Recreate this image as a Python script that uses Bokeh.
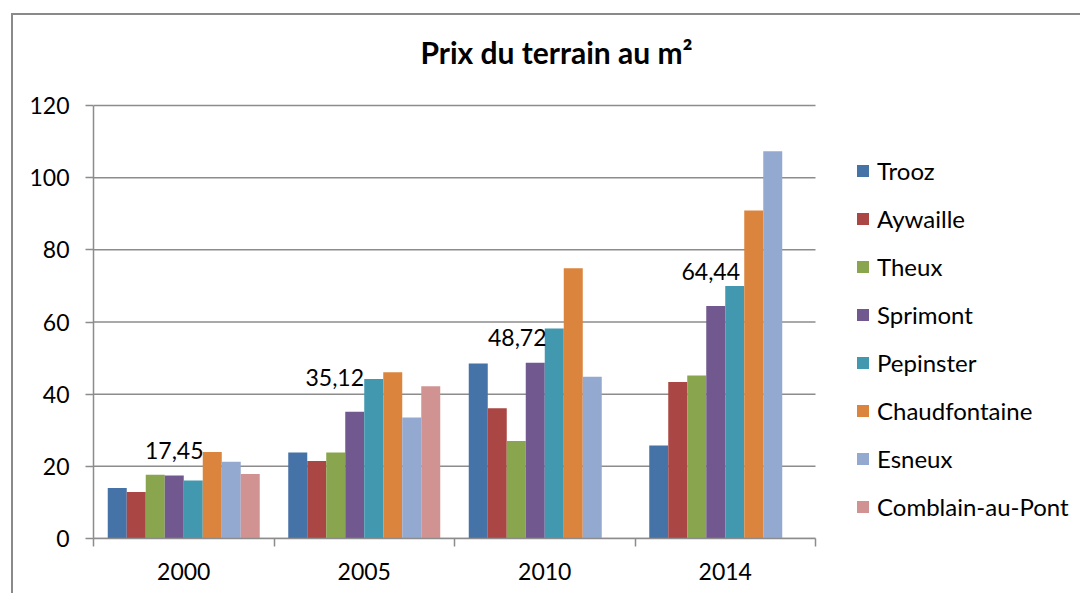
from bokeh.plotting import figure
from bokeh.models import (ColumnDataSource, FixedTicker, Legend, LegendItem, LabelSet,
                          Label, Range1d)
from bokeh.core.properties import value
from bokeh.embed import file_html
from bokeh.resources import INLINE

# ---------------- data ----------------
years = ["2000", "2005", "2010", "2014"]
communes = ["Trooz", "Aywaille", "Theux", "Sprimont", "Pepinster",
            "Chaudfontaine", "Esneux", "Comblain-au-Pont"]
trooz = [14.0, 23.8, 48.5, 25.8]
aywaille = [12.9, 21.5, 36.1, 43.4]
theux = [17.7, 23.8, 27.0, 45.2]
sprimont = [17.45, 35.12, 48.72, 64.44]
pepinster = [16.1, 44.2, 58.2, 70.0]
chaudfontaine = [24.0, 46.1, 74.9, 90.9]
esneux = [21.3, 33.5, 44.8, 107.3]
comblain = [17.9, 42.2, float("nan"), float("nan")]
series = [trooz, aywaille, theux, sprimont, pepinster, chaudfontaine, esneux, comblain]
colors = ["#4572A7", "#AA4643", "#89A54E", "#71588F",
          "#4198AF", "#DB843D", "#93A9CF", "#D19392"]
y_ticks = [0, 20, 40, 60, 80, 100, 120]
title_text = "Prix du terrain au m²"
labelled_series = 3  # Sprimont values are shown as data labels
label_dx = [0, -20, -18, -5]
label_dy = [17, 26, 17, 26]

FONT = "Lato"
GRID = "#8c8c8c"

# ---------------- layout (pixels) ----------------
W, H = 1069, 580
LEFT, BOTTOM = 80, 57
PLOT_W, PLOT_H = 722, 433          # area used by the bars / axes
FRAME_W, FRAME_H = W - LEFT, H - BOTTOM

n_cat = len(years)
n_ser = len(series)
y_max = max(y_ticks)
bar_w = 1.0 / (n_ser + 1.5)
xc = [i + 0.5 for i in range(n_cat)]

p = figure(width=W, height=H, output_backend="svg", toolbar_location=None, title=None,
           x_range=Range1d(0, n_cat * FRAME_W / PLOT_W),
           y_range=Range1d(0, y_max * FRAME_H / PLOT_H),
           min_border=0, min_border_left=LEFT, min_border_right=0,
           min_border_top=0, min_border_bottom=BOTTOM)
p.margin = (13, 0, 0, 11)
p.styles = {"border-left": "2px solid #8a8a8a", "border-top": "2px solid #8a8a8a"}
p.outline_line_color = None
p.background_fill_color = "white"
p.border_fill_color = "white"
p.xgrid.grid_line_color = None
p.ygrid.grid_line_color = None

# horizontal gridlines limited to the plot area
p.segment(x0=[0] * len(y_ticks), x1=[n_cat] * len(y_ticks), y0=y_ticks, y1=y_ticks,
          line_color=GRID, line_width=1.5)

items = []
for i, (name, vals, col) in enumerate(zip(communes, series, colors)):
    off = (i - (n_ser - 1) / 2) * bar_w
    src = ColumnDataSource(dict(x=[c + off for c in xc], top=vals))
    r = p.vbar(x="x", top="top", width=bar_w, bottom=0, source=src,
               fill_color=col, line_color=None)
    items.append(LegendItem(label=name, renderers=[r]))

# data labels
off3 = (labelled_series - (n_ser - 1) / 2) * bar_w
lab_src = ColumnDataSource(dict(
    x=[c + off3 for c in xc],
    y=sprimont,
    text=[f"{v:.2f}".replace(".", ",") for v in sprimont],
    dx=label_dx, dy=label_dy))
p.add_layout(LabelSet(x="x", y="y", text="text", source=lab_src,
                      x_offset="dx", y_offset="dy", text_align="center",
                      text_baseline="alphabetic", text_font=value(FONT),
                      text_font_size=value("23px"), text_color=value("#000000")))

# title
p.add_layout(Label(x=463, y=FRAME_H - 36, x_units="screen", y_units="screen",
                   text=title_text, text_align="center", text_baseline="alphabetic",
                   text_font=FONT, text_font_style="bold", text_font_size="30px",
                   text_color="#000000"))

# x axis
p.xaxis.bounds = (0, n_cat)
p.xaxis.ticker = FixedTicker(ticks=xc, minor_ticks=list(range(n_cat + 1)))
p.xaxis.major_label_overrides = {x: y for x, y in zip(xc, years)}
p.xaxis.major_tick_out = 0
p.xaxis.major_tick_in = 0
p.xaxis.minor_tick_out = 8
p.xaxis.minor_tick_in = 0
p.xaxis.minor_tick_line_color = GRID
p.xaxis.minor_tick_line_width = 1.5
p.xaxis.axis_line_color = GRID
p.xaxis.axis_line_width = 1.5
p.xaxis.major_label_standoff = 16
p.xaxis.major_label_text_font = FONT
p.xaxis.major_label_text_font_size = "23px"
p.xaxis.major_label_text_color = "#000000"

# y axis
p.yaxis.bounds = (0, y_max)
p.yaxis.ticker = FixedTicker(ticks=y_ticks)
p.yaxis.major_tick_out = 8
p.yaxis.major_tick_in = 0
p.yaxis.minor_tick_line_color = None
p.yaxis.major_tick_line_color = GRID
p.yaxis.major_tick_line_width = 1.5
p.yaxis.axis_line_color = GRID
p.yaxis.axis_line_width = 1.5
p.yaxis.major_label_standoff = 16
p.yaxis.major_label_text_font = FONT
p.yaxis.major_label_text_font_size = "23px"
p.yaxis.major_label_text_color = "#000000"

legend = Legend(items=items, location=(762, 17), orientation="vertical",
                glyph_width=15, glyph_height=15, label_standoff=7,
                label_height=26, spacing=19, padding=0, margin=0,
                label_text_font=FONT, label_text_font_size="24px",
                label_text_color="#000000", border_line_color=None,
                background_fill_alpha=0)
p.add_layout(legend)

open("out.html", "w").write(file_html(p, INLINE))
